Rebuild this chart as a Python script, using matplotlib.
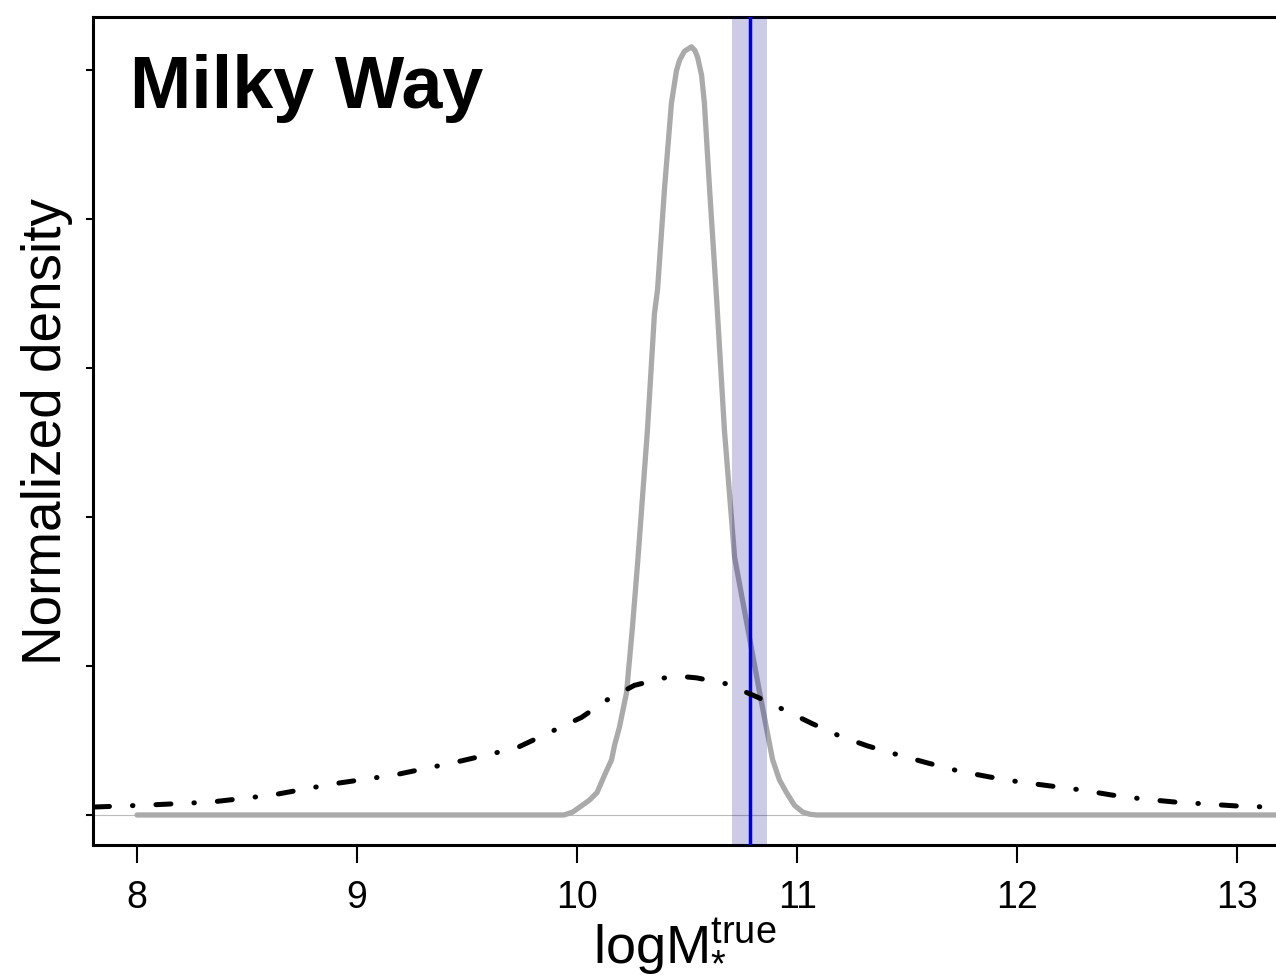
import numpy as np
import matplotlib
matplotlib.use("Agg")
import matplotlib.pyplot as plt

plt.rcParams['font.family'] = ['Liberation Sans', 'DejaVu Sans']
plt.rcParams['mathtext.fontset'] = 'custom'
plt.rcParams['mathtext.rm'] = 'Liberation Sans'
plt.rcParams['mathtext.it'] = 'Liberation Sans'

# posterior density of stellar mass (grey)
post_x = [8.0, 9.94, 9.98, 10.056, 10.09, 10.125, 10.156, 10.170, 10.192, 10.224,
          10.251, 10.276, 10.319, 10.351, 10.365, 10.397, 10.428, 10.451, 10.465,
          10.487, 10.519, 10.535, 10.547, 10.565, 10.578, 10.601, 10.633, 10.669,
          10.715, 10.774, 10.829, 10.888, 10.919, 10.951, 10.987, 11.024, 11.056,
          11.088, 13.5]
post_y = [0.0, 0.0, 0.004, 0.020, 0.030, 0.054, 0.074, 0.094, 0.118, 0.164,
          0.252, 0.344, 0.516, 0.673, 0.705, 0.842, 0.955, 0.999, 1.013,
          1.025, 1.031, 1.026, 1.017, 0.993, 0.955, 0.842, 0.695, 0.516,
          0.346, 0.252, 0.164, 0.074, 0.047, 0.030, 0.013, 0.004, 0.001,
          0.0, 0.0]

# prior density (black dot-dash)
prior_x = [7.70, 7.807, 8.057, 8.338, 8.616, 8.888, 9.170, 9.452, 9.724, 9.888,
           10.020, 10.133, 10.260, 10.397, 10.470, 10.543, 10.679, 10.820, 10.933,
           11.065, 11.192, 11.320, 11.460, 11.592, 11.733, 11.874, 12.010, 12.151,
           12.292, 12.428, 12.569, 12.714, 12.855, 12.996, 13.133, 13.30]
prior_y = [0.0095, 0.0107, 0.0134, 0.0174, 0.0268, 0.0416, 0.0537, 0.0711, 0.0899, 0.1127,
           0.131, 0.154, 0.174, 0.184, 0.186, 0.184, 0.176, 0.158, 0.142,
           0.123, 0.106, 0.0926, 0.0805, 0.0698, 0.0590, 0.0510, 0.0443, 0.0389,
           0.0335, 0.0268, 0.0215, 0.0174, 0.0148, 0.0121, 0.0107, 0.0095]

# literature value and its uncertainty
mw_mass = 10.783
mw_lo, mw_hi = 10.703, 10.862

y_ticks = [0.0, 0.2, 0.4, 0.6, 0.8, 1.0]
x_ticks = [8, 9, 10, 11, 12, 13]

fig = plt.figure(figsize=(12.76, 9.8), dpi=100)
ax = fig.add_axes([93 / 1276, 135 / 980, 1 - 93 / 1276, 828 / 980])

ax.axhline(0, color='#bbbbbb', lw=0.8, zorder=1)
ax.plot(post_x, post_y, color='#aaaaaa', lw=3.8, solid_capstyle='round',
        solid_joinstyle='round', zorder=2)
ax.axvspan(mw_lo, mw_hi, color='darkblue', alpha=0.2, lw=0, zorder=3)
ax.axvline(mw_mass, color='#0000dd', lw=2.5, zorder=4)
ln, = ax.plot(prior_x, prior_y, color='black', lw=3.6, zorder=5,
              dash_capstyle='round')
ln.set_dashes([0.1, 4.6, 3.0, 4.6])

ax.set_xlim(7.80, 13.175)
ax.set_ylim(-0.0403, 1.071)
ax.set_xticks(x_ticks)
ax.set_xticklabels([str(t) for t in x_ticks])
ax.set_yticks(y_ticks)
ax.set_yticklabels([])

ax.tick_params(axis='x', direction='out', length=13, width=1.5, labelsize=27, pad=12)
ax.tick_params(axis='y', direction='out', length=5, width=1.5)
for s in ['left', 'bottom', 'top']:
    ax.spines[s].set_linewidth(2.2)
ax.spines['right'].set_visible(False)

ax.set_ylabel('Normalized density', fontsize=39.5, labelpad=6)
ax.set_xlabel(r'$\mathregular{logM}_{*}^{\mathregular{true}}$', fontsize=39, labelpad=1)

ax.text(0.031, 0.955, 'Milky Way', transform=ax.transAxes, fontsize=53,
        fontweight='bold', ha='left', va='top')

fig.savefig('out.png', dpi=100)
